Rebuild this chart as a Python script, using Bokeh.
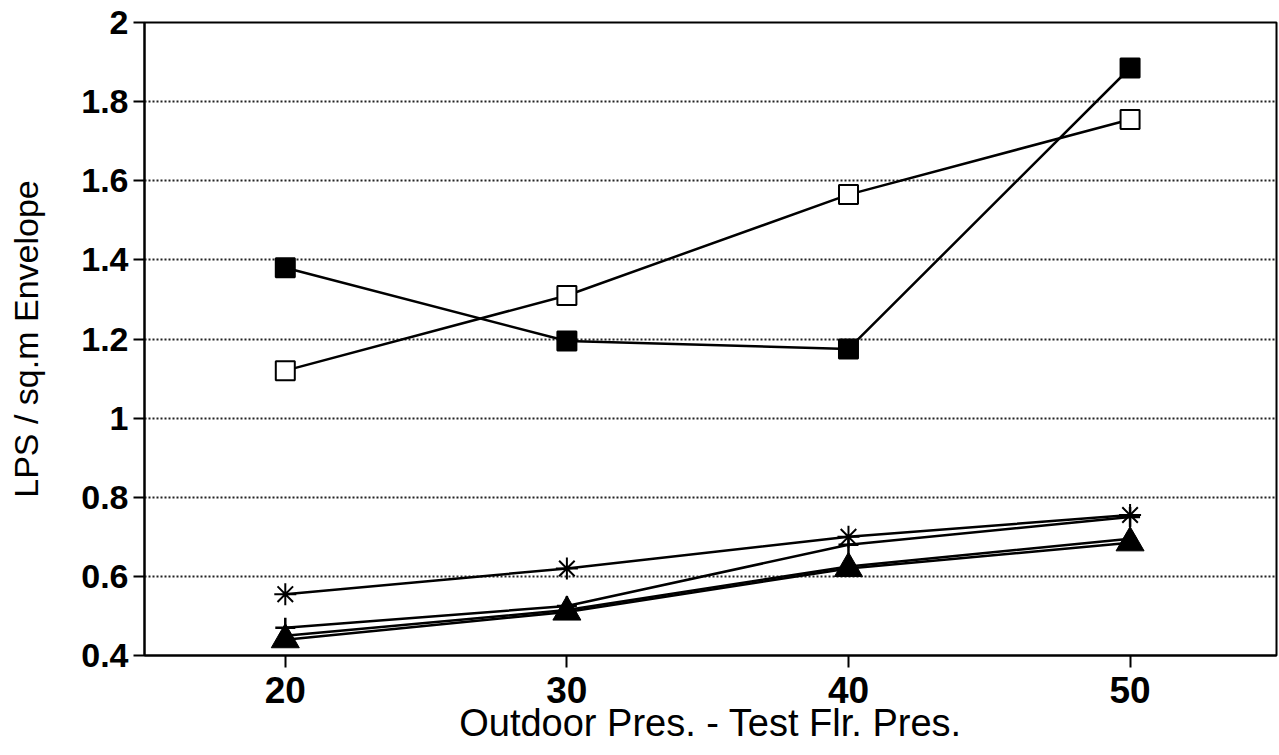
from bokeh.plotting import figure
from bokeh.models import Range1d, FixedTicker, CustomJSTickFormatter
from bokeh.embed import file_html
from bokeh.resources import INLINE

# ---- data ----
pressure = [20, 30, 40, 50]
filled_square = [1.38, 1.195, 1.175, 1.885]
open_square = [1.12, 1.31, 1.565, 1.755]
asterisk_s = [0.555, 0.62, 0.70, 0.755]
plus_s = [0.47, 0.525, 0.68, 0.75]
diamond_s = [0.45, 0.515, 0.625, 0.695]
triangle_s = [0.44, 0.51, 0.62, 0.685]
y_ticks = [0.4, 0.6, 0.8, 1.0, 1.2, 1.4, 1.6, 1.8, 2.0]
x_ticks = [20, 30, 40, 50]
x_label = "Outdoor Pres. - Test Flr. Pres."
y_label = "LPS / sq.m Envelope"

FONT = "Liberation Sans"

p = figure(width=1278, height=753, output_backend="svg", toolbar_location=None,
           x_range=Range1d(15, 55.2), y_range=Range1d(0.4, 2.0),
           min_border_left=144, min_border_right=2, min_border_top=22,
           min_border_bottom=98)

p.background_fill_color = "white"
p.border_fill_color = "white"
p.outline_line_color = "black"
p.outline_line_width = 2

# grid
p.xgrid.grid_line_color = None
p.ygrid.grid_line_color = "#222222"
p.ygrid.grid_line_dash = "2 2"
p.ygrid.grid_line_width = 2

# axes
for ax in (p.xaxis[0], p.yaxis[0]):
    ax.axis_line_color = "black"
    ax.axis_line_width = 2
    ax.major_tick_line_color = "black"
    ax.major_tick_line_width = 2
    ax.major_tick_in = 0
    ax.minor_tick_line_color = None
    ax.major_label_text_font = FONT
    ax.major_label_text_font_style = "bold"
    ax.major_label_text_color = "black"
    ax.axis_label_text_font = FONT
    ax.axis_label_text_font_style = "normal"
    ax.axis_label_text_color = "black"

p.xaxis.ticker = FixedTicker(ticks=x_ticks)
p.yaxis.ticker = FixedTicker(ticks=y_ticks)
p.yaxis.formatter = CustomJSTickFormatter(code="return String(Math.round(tick*10)/10);")

p.xaxis.major_tick_out = 12
p.yaxis.major_tick_out = 11
p.xaxis.major_label_text_font_size = "37px"
p.yaxis.major_label_text_font_size = "34px"
p.xaxis.major_label_standoff = 9
p.yaxis.major_label_standoff = 5
p.xaxis.axis_label = x_label
p.yaxis.axis_label = y_label
p.xaxis.axis_label_text_font_size = "38px"
p.yaxis.axis_label_text_font_size = "34px"
p.xaxis.axis_label_standoff = -4
p.yaxis.axis_label_standoff = 33

# lines
for ys in (filled_square, open_square, asterisk_s, plus_s, diamond_s, triangle_s):
    p.line(pressure, ys, line_color="black", line_width=2.5)

# markers
p.scatter(pressure, filled_square, marker="square", size=19,
          fill_color="black", line_color="black", line_width=2)
p.scatter(pressure, open_square, marker="square", size=19,
          fill_color="white", line_color="black", line_width=2)
p.scatter(pressure, diamond_s, marker="diamond", size=18,
          fill_color="white", line_color="black", line_width=2)
p.scatter(pressure, triangle_s, marker="triangle", size=28,
          fill_color="black", line_color="black", line_width=1)
p.scatter(pressure, plus_s, marker="cross", size=20,
          line_color="black", line_width=2.5)
p.scatter(pressure, asterisk_s, marker="asterisk", size=22,
          line_color="black", line_width=2)

open("out.html", "w").write(file_html(p, INLINE))
